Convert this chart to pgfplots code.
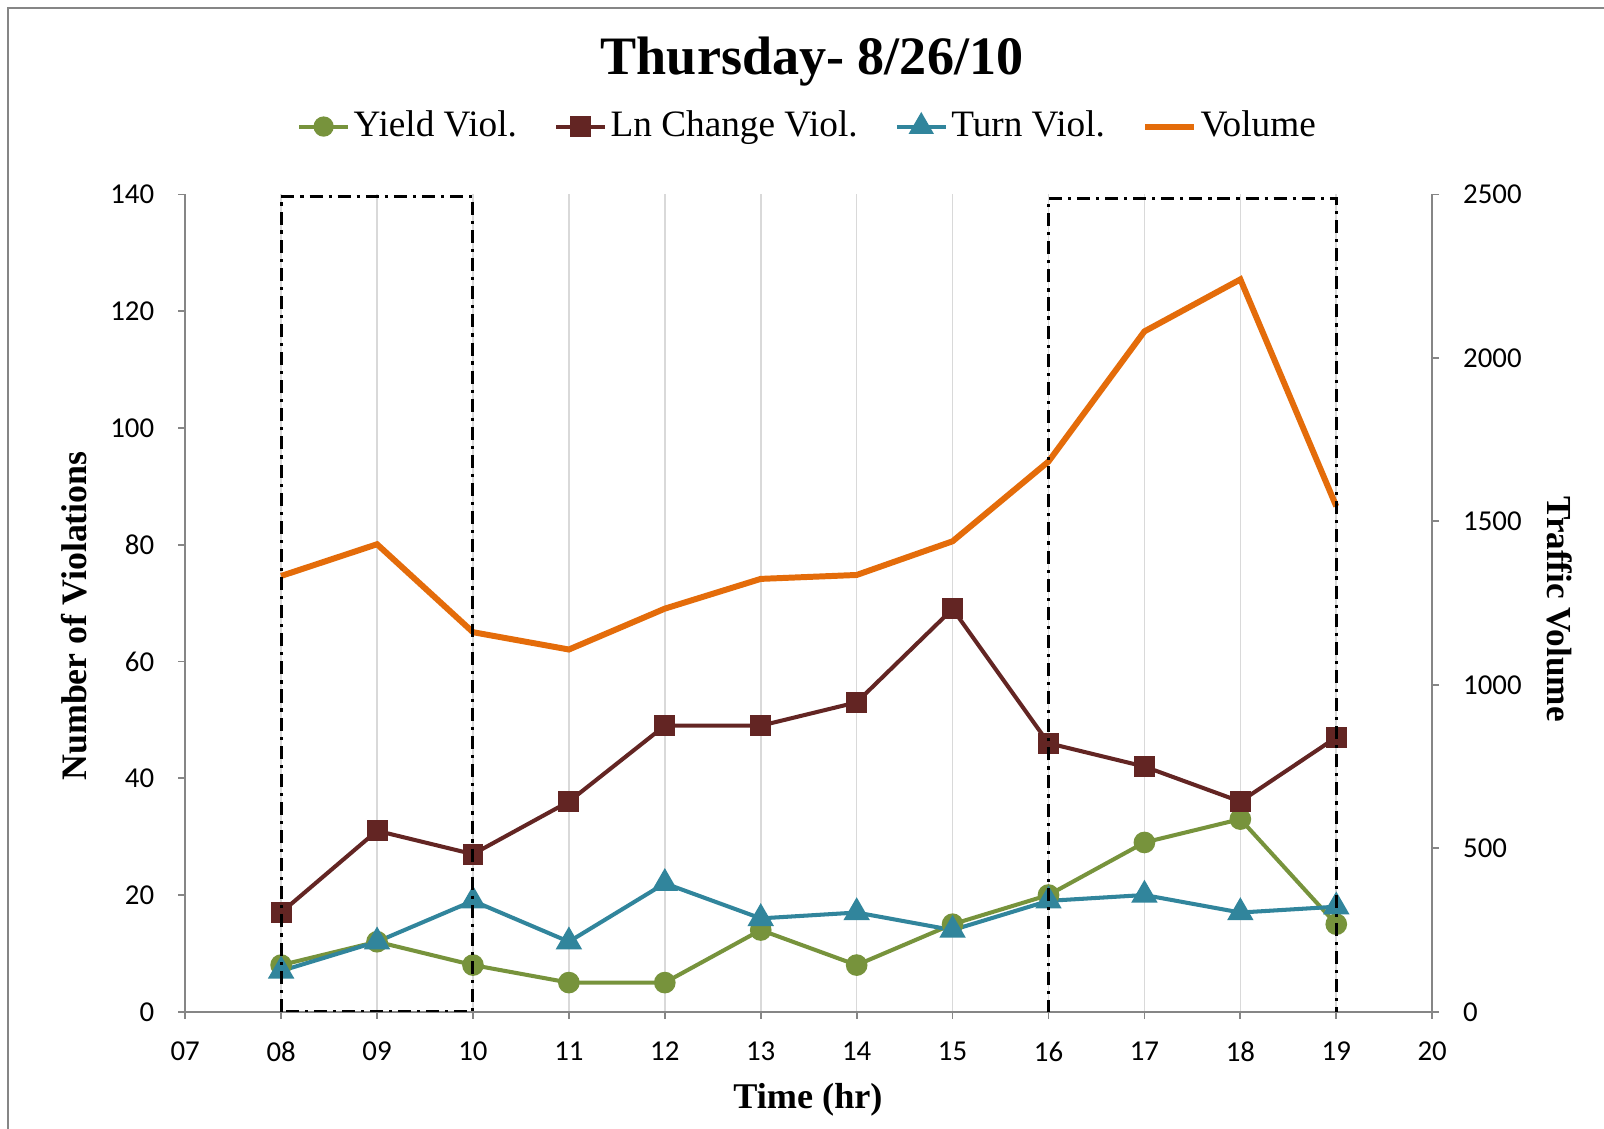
\documentclass[border=0pt]{standalone}
\usepackage{fontspec}
\setmainfont{Liberation Serif}
\newfontfamily\tickfont{Carlito}
\usepackage{pgfplots}
\usepackage{pgfplotstable}
\pgfplotsset{compat=1.18}

\definecolor{cYield}{HTML}{77933C}
\definecolor{cLn}{HTML}{632523}
\definecolor{cTurn}{HTML}{31859C}
\definecolor{cVol}{HTML}{E46C0A}
\definecolor{axgray}{HTML}{868686}
\definecolor{gridgray}{HTML}{D9D9D9}

\pgfplotstableread{
hr yield ln turn vol
8  8  17 7  1333
9  12 31 12 1430
10 8  27 19 1161
11 5  36 12 1108
12 5  49 22 1233
13 14 49 16 1324
14 8  53 17 1336
15 15 69 14 1439
16 20 46 19 1683
17 29 42 20 2081
18 33 36 17 2240
19 15 47 18 1546
}\data

\tikzset{boxline/.style={black, line width=0.85pt, dash pattern=on 3.7pt off 1.7pt on 0.9pt off 1.7pt}}

\pgfplotsset{
  base/.style={
    at={(1.852cm,1.172cm)}, anchor=south west,
    width=12.47cm, height=8.174cm, scale only axis,
    xmin=7, xmax=20,
    tick align=outside, major tick length=2pt,
    axis line style={axgray, line width=0.5pt},
    tick style={axgray, line width=0.5pt},
    ticklabel style={font=\tickfont\fontsize{8.2}{10}\selectfont, black},
    /pgf/number format/assume math mode=true,
    /pgf/number format/1000 sep={},
  },
}

\begin{document}
\begin{tikzpicture}
\useasboundingbox (0,0) rectangle (16.04,11.29);
\fill[white] (0,0) rectangle (16.04,11.29);
\draw[color=axgray, line width=0.6pt] (0.08,-0.1) -- (0.08,11.21) -- (16.2,11.21);

\begin{axis}[base,
  axis x line*=bottom, axis y line*=left,
  ymin=0, ymax=140, ytick={0,20,...,140},
  xtick={7,...,20}, xticklabels={07,08,09,10,11,12,13,14,15,16,17,18,19,20},
  xmajorgrids, major grid style={gridgray, line width=0.45pt},
  xticklabel style={yshift=-3pt},
  yticklabel style={xshift=-3.3pt},
  every axis plot/.append style={line width=1.15pt},
]
\addplot[cYield, mark=*, mark size=2.5pt] table[x=hr, y=yield] {\data};
\addplot[cLn, mark=square*, mark size=2.4pt] table[x=hr, y=ln] {\data};
\addplot[cTurn, mark=triangle*, mark size=3.2pt] table[x=hr, y=turn] {\data};
\end{axis}

\begin{axis}[base,
  axis x line=none, axis y line*=right,
  ymin=0, ymax=2500, ytick={0,500,...,2500},
  yticklabel style={xshift=3.3pt},
  legend columns=4,
  legend style={at={(0.501,1.083)}, anchor=center, draw=none, fill=none,
    font=\fontsize{10.6}{12}\selectfont,
    /tikz/every odd column/.append style={column sep=-1pt},
    /tikz/every even column/.append style={column sep=0.3cm}},
  legend image code/.code={\draw[#1,mark repeat=2,mark phase=2] plot coordinates {(0cm,0cm)(0.245cm,0cm)(0.49cm,0cm)};},
]
\addlegendimage{cYield, line width=1.15pt, mark=*, mark size=2.3pt}
\addlegendentry{Yield Viol.}
\addlegendimage{cLn, line width=1.15pt, mark=square*, mark size=2.3pt}
\addlegendentry{Ln Change Viol.}
\addlegendimage{cTurn, line width=1.15pt, mark=triangle*, mark size=3pt}
\addlegendentry{Turn Viol.}
\addplot[cVol, line width=1.7pt, no marks] table[x=hr, y=vol] {\data};
\addlegendentry{Volume}
\draw[boxline] (axis cs:8,0) rectangle (axis cs:10,2493);
\draw[boxline] (axis cs:16,-5) rectangle (axis cs:19,2488);
\end{axis}

\node[font=\bfseries\fontsize{15.4}{18}\selectfont] at (8.12,10.67) {Thursday- 8/26/10};
\node[font=\bfseries\fontsize{10.3}{12}\selectfont] at (8.08,0.29) {Time (hr)};
\node[font=\bfseries\fontsize{10.2}{12}\selectfont, rotate=90] at (0.74,5.13) {Number of Violations};
\node[font=\bfseries\fontsize{10}{12}\selectfont, rotate=-90] at (15.60,5.20) {Traffic Volume};
\end{tikzpicture}
\end{document}
